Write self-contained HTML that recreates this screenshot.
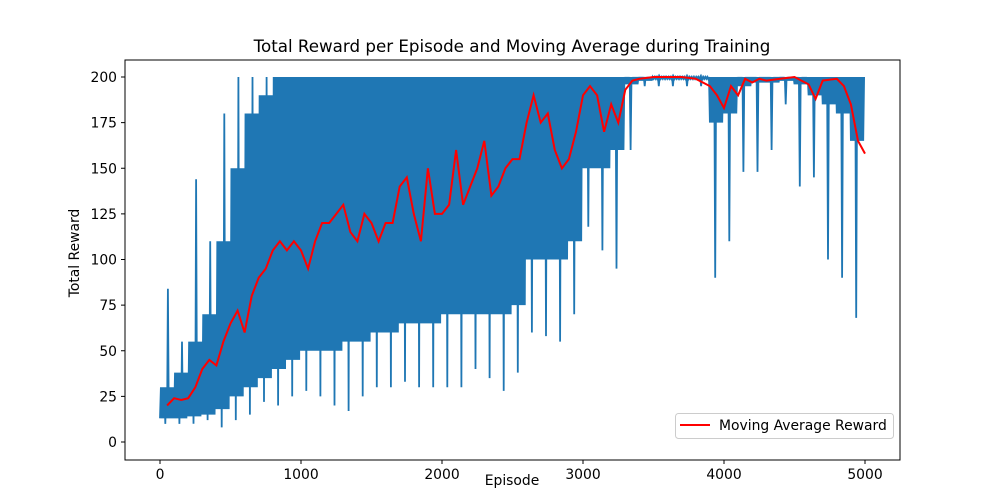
<!DOCTYPE html>
<html><head><meta charset="utf-8"><style>
body{margin:0;background:#fff;font-family:"DejaVu Sans","Liberation Sans",sans-serif}
</style></head><body>
<svg id="c" width="1000" height="500" xmlns="http://www.w3.org/2000/svg" font-family="DejaVu Sans, Liberation Sans, sans-serif">
<rect width="1000" height="500" fill="#fff"/>
<text x="512" y="52" text-anchor="middle" font-size="16.7">Total Reward per Episode and Moving Average during Training</text>
<text x="512" y="485" text-anchor="middle" font-size="13.9">Episode</text>
<text x="79" y="253" text-anchor="middle" font-size="13.9" transform="rotate(-90 79 253)">Total Reward</text>
<g id="plot"></g>
<rect x="125" y="60" width="775" height="400" fill="none" stroke="#000" stroke-width="1"/>
<g id="axes"></g>
<g>
<rect x="675.5" y="413.5" width="218" height="25" rx="3" fill="#fff" fill-opacity="0.8" stroke="#ccc"/>
<line x1="680" y1="425" x2="710" y2="425" stroke="red" stroke-width="2"/>
<text x="719" y="430" font-size="13.9">Moving Average Reward</text>
</g>
</svg>
<script>
const binStart=[0,100,200,300,400,500,600,700,800,900,1000,1100,1200,1300,1400,1500,1600,1700,1800,1900,2000,2100,2200,2300,2400,2500,2600,2700,2800,2900,3000,3100,3200,3300,3400,3500,3600,3700,3800,3900,4000,4100,4200,4300,4400,4500,4600,4700,4800,4900];
const rewardLowCore=[13,13,14,15,18,25,30,35,40,45,50,50,50,55,55,60,60,65,65,65,70,70,70,70,70,75,100,100,100,110,150,150,160,196,198,199,199,199,199,175,180,195,197,197,198,196,190,185,180,165];
const rewardLowMin=[10,10,10,12,8,12,15,22,20,25,28,25,20,17,25,30,30,33,30,30,30,30,40,35,28,38,60,58,55,70,118,105,95,160,195,195,195,195,195,90,110,148,148,160,185,140,145,100,90,68];
const rewardHighCore=[30,38,55,70,110,150,180,190,200,200,200,200,200,200,200,200,200,200,200,200,200,200,200,200,200,200,200,200,200,200,200,200,200,200,200,200,200,200,200,200,200,200,200,200,200,200,200,200,200,200];
const rewardHighMax=[84,55,144,110,180,200,200,200,200,200,200,200,200,200,200,200,200,200,200,200,200,200,200,200,200,200,200,200,200,200,200,200,200,200,200,200,200,200,200,200,200,200,200,200,200,200,200,200,200,200];
const maEp=[50,100,150,200,250,300,350,400,450,500,550,600,650,700,750,800,850,900,950,1000,1050,1100,1150,1200,1250,1300,1350,1400,1450,1500,1550,1600,1650,1700,1750,1800,1850,1900,1950,2000,2050,2100,2150,2200,2250,2300,2350,2400,2450,2500,2550,2600,2650,2700,2750,2800,2850,2900,2950,3000,3050,3100,3150,3200,3250,3300,3350,3400,3500,3600,3700,3800,3900,3950,4000,4050,4100,4150,4200,4250,4300,4400,4500,4600,4650,4700,4800,4850,4900,4950,5000];
const maVal=[20,24,23,24,30,40,45,42,55,65,72,60,80,90,95,105,110,105,110,105,95,110,120,120,125,130,115,110,125,120,110,120,120,140,145,125,110,150,125,125,130,160,130,140,150,165,135,140,150,155,155,175,190,175,180,160,150,155,170,190,195,190,170,185,175,193,198,199,200,200,200,199,195,190,183,195,190,199,197,199,198,199,200,196,188,198,199,195,185,165,158];
const xTicks=[0,1000,2000,3000,4000,5000];
const yTicks=[0,25,50,75,100,125,150,175,200];
const X=v=>160+v*(865-160)/5000;
const Y=v=>442-v*(442-77)/200;
const NS="http://www.w3.org/2000/svg";
const plot=document.getElementById('plot'),axes=document.getElementById('axes');
let pts=[];
const binW=100, steps=16;
for(let i=0;i<binStart.length;i++){
  for(let k=0;k<steps;k++){
    const ep=binStart[i]+binW*k/steps;
    let v;
    if(k%2){v=(k==9)?rewardHighMax[i]:rewardHighCore[i];}
    else{v=(k==6)?rewardLowMin[i]:rewardLowCore[i];}
    pts.push(X(ep).toFixed(1)+','+Y(v).toFixed(1));
  }
}
const bl=document.createElementNS(NS,'polyline');
bl.setAttribute('points',pts.join(' '));
bl.setAttribute('fill','none');bl.setAttribute('stroke','#1f77b4');bl.setAttribute('stroke-width','1.8');


plot.appendChild(bl);
const ma=document.createElementNS(NS,'polyline');
ma.setAttribute('points',maEp.map((e,i)=>X(e).toFixed(1)+','+Y(maVal[i]).toFixed(1)).join(' '));
ma.setAttribute('fill','none');ma.setAttribute('stroke','red');ma.setAttribute('stroke-width','2');


plot.appendChild(ma);
xTicks.forEach(t=>{
  const l=document.createElementNS(NS,'line');
  l.setAttribute('x1',X(t));l.setAttribute('x2',X(t));l.setAttribute('y1',460);l.setAttribute('y2',464);l.setAttribute('stroke','#000');
  
  
  axes.appendChild(l);
  const tx=document.createElementNS(NS,'text');
  tx.setAttribute('x',X(t));tx.setAttribute('y',479);tx.setAttribute('text-anchor','middle');tx.setAttribute('font-size','13.9');
  tx.textContent=t;
  
  
  axes.appendChild(tx);
});
yTicks.forEach(t=>{
  const l=document.createElementNS(NS,'line');
  l.setAttribute('x1',121);l.setAttribute('x2',125);l.setAttribute('y1',Y(t));l.setAttribute('y2',Y(t));l.setAttribute('stroke','#000');
  
  
  axes.appendChild(l);
  const tx=document.createElementNS(NS,'text');
  tx.setAttribute('x',117);tx.setAttribute('y',Y(t)+5);tx.setAttribute('text-anchor','end');tx.setAttribute('font-size','13.9');
  tx.textContent=t;
  
  
  axes.appendChild(tx);
});
</script>
</body></html>
